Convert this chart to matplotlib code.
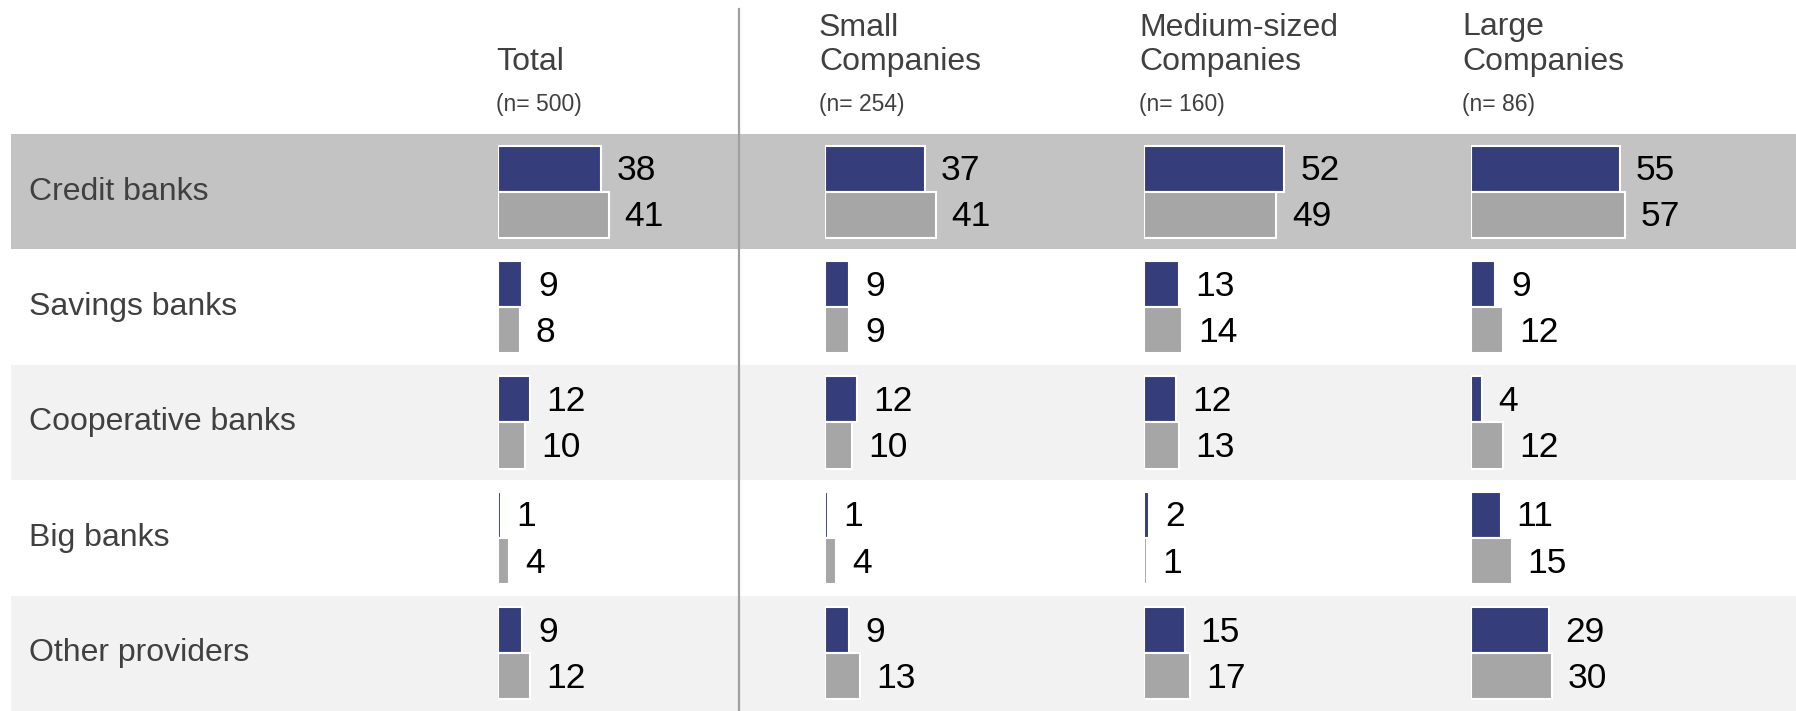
import matplotlib
matplotlib.use("Agg")
import matplotlib.pyplot as plt
from matplotlib.lines import Line2D

plt.rcParams['font.family'] = ['Liberation Sans', 'DejaVu Sans']

# ---------------- data ----------------
categories = ["Credit banks", "Savings banks", "Cooperative banks", "Big banks", "Other providers"]
group_titles = [["Total"], ["Small", "Companies"], ["Medium-sized", "Companies"], ["Large", "Companies"]]
group_n = ["(n= 500)", "(n= 254)", "(n= 160)", "(n= 86)"]

blue_total = [38, 9, 12, 1, 9]
grey_total = [41, 8, 10, 4, 12]
blue_small = [37, 9, 12, 1, 9]
grey_small = [41, 9, 10, 4, 13]
blue_medium = [52, 13, 12, 2, 15]
grey_medium = [49, 14, 13, 1, 17]
blue_large = [55, 9, 4, 11, 29]
grey_large = [57, 12, 12, 15, 30]

blue_groups = [blue_total, blue_small, blue_medium, blue_large]
grey_groups = [grey_total, grey_small, grey_medium, grey_large]

# ---------------- layout (pixels) ----------------
W, H = 1796, 711
DPI = 100
top_rows = 134          # top of first row band
band_left = 11
group_x0 = [498, 825, 1144, 1471]
header_x = [496, 819, 1139, 1462]
px_per_unit = 2.70
group_w = 260
divider_x = 739
label_x = 29

C_BLUE = "#353e7b"
C_GREY = "#a6a6a6"
C_BAND_DARK = "#c3c3c3"
C_BAND_LIGHT = "#f2f2f2"
C_TEXT = "#404040"

fig = plt.figure(figsize=(W / DPI, H / DPI), dpi=DPI)
fig.patch.set_facecolor("white")

n = len(categories)
rows_h = (H - top_rows) / H

# background bands
bg = fig.add_axes([0, 0, 1, rows_h])
bg.set_xlim(0, W)
bg.set_ylim(n - 0.5, -0.5)
bg.axis("off")
band_colors = [C_BAND_DARK, "white", C_BAND_LIGHT, "white", C_BAND_LIGHT]
for i in range(n):
    bg.axhspan(i - 0.5, i + 0.5, xmin=band_left / W, xmax=1, color=band_colors[i], lw=0, zorder=0)
    bg.text(label_x, i, categories[i], ha="left", va="center", fontsize=23, color=C_TEXT)

# divider
fig.add_artist(Line2D([divider_x / W, divider_x / W], [0, 1 - 9 / H],
                      transform=fig.transFigure, color="#a0a0a0", lw=1.6, zorder=5))

# bars
bh = 0.4
for g in range(4):
    ax = fig.add_axes([group_x0[g] / W, 0, group_w / W, rows_h])
    ax.set_xlim(0, group_w / px_per_unit)
    ax.set_ylim(n - 0.5, -0.5)
    ax.axis("off")
    ax.patch.set_alpha(0)
    ys = list(range(n))
    yb = [y - 0.2 for y in ys]
    yg = [y + 0.2 for y in ys]
    ax.barh(yb, blue_groups[g], height=bh, color=C_BLUE, edgecolor="white", lw=1.5)
    ax.barh(yg, grey_groups[g], height=bh, color=C_GREY, edgecolor="white", lw=1.5)
    for y, v in zip(yb, blue_groups[g]):
        ax.annotate(str(v), (v, y), xytext=(11.5, -1.5), textcoords="offset points",
                    ha="left", va="center", fontsize=25.5, color="black")
    for y, v in zip(yg, grey_groups[g]):
        ax.annotate(str(v), (v, y), xytext=(11.5, -1.5), textcoords="offset points",
                    ha="left", va="center", fontsize=25.5, color="black")

    # headers
    hx = header_x[g] / W
    lines = group_titles[g]
    base = 70
    for k, line in enumerate(reversed(lines)):
        fig.text(hx, 1 - (base - 34.5 * k) / H, line, ha="left", va="baseline",
                 fontsize=23, color=C_TEXT)
    fig.text(hx, 1 - 111 / H, group_n[g], ha="left", va="baseline",
             fontsize=16.5, color=C_TEXT)

fig.savefig("out.png", dpi=DPI, facecolor="white")
